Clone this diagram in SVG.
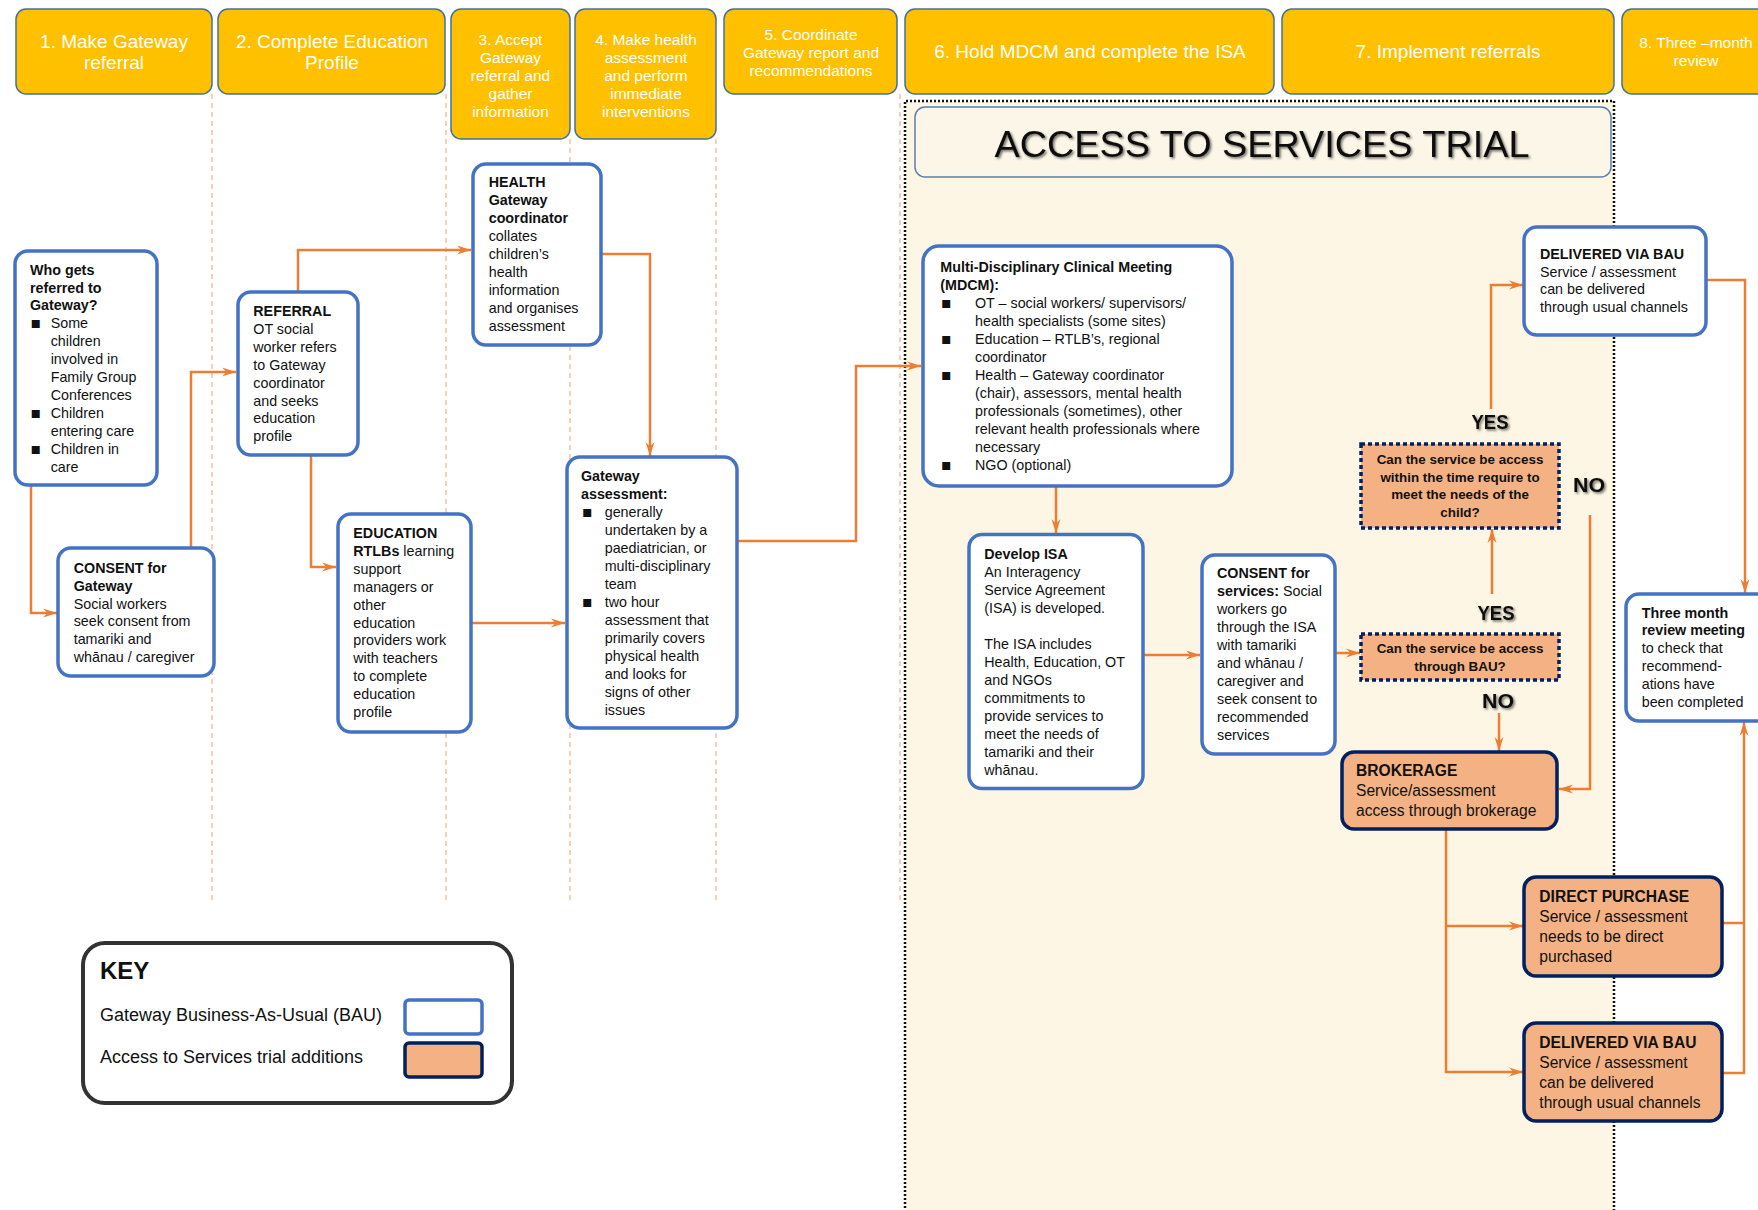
<svg xmlns="http://www.w3.org/2000/svg" width="1758" height="1210" viewBox="0 0 1758 1210">
<defs>
<style>
.hdr{fill:#FFC000;stroke:#41719C;stroke-width:1.5}
.ht{font-family:'Liberation Sans',Arial,sans-serif;fill:#fff;text-anchor:middle}
.bau{fill:#fff;stroke:#4472C4;stroke-width:3.5}
.ats{fill:#F4B183;stroke:#002060;stroke-width:3.5}
.q{fill:#F4B183;stroke:#002060;stroke-width:3.5;stroke-dasharray:4 3}
.t{font-family:'Liberation Sans','DejaVu Sans',Arial,sans-serif;font-size:14.3px;fill:#111}
.tl{font-family:'Liberation Sans','DejaVu Sans',Arial,sans-serif;font-size:15.6px;fill:#111}
.qt{font-family:'Liberation Sans',Arial,sans-serif;font-size:13.4px;font-weight:bold;fill:#111;text-anchor:middle}
.b{font-weight:bold}
.bl{font-family:'DejaVu Sans',sans-serif;font-size:16px}
.conn{fill:none;stroke:#ED7D31;stroke-width:2.5}
.dash{stroke:#F4B183;stroke-width:1.2;stroke-dasharray:5 4;fill:none}
.yn{font-family:'Liberation Sans',Arial,sans-serif;font-size:20px;font-weight:bold;fill:#111;text-anchor:middle}
</style>
<marker id="ah" markerWidth="14" markerHeight="10" refX="14" refY="5" orient="auto" markerUnits="userSpaceOnUse">
<path d="M0,0.5 L14,5 L0,9.5 L4.5,5 Z" fill="#ED7D31"/>
</marker>
<filter id="sh" x="-10%" y="-30%" width="130%" height="170%">
<feDropShadow dx="1.6" dy="1.6" stdDeviation="1" flood-color="#000" flood-opacity="0.55"/>
</filter>
</defs>
<rect x="0" y="0" width="1758" height="1210" fill="#fff"/>

<!-- trial region -->
<g id="trial-region">
<rect x="905" y="101" width="709" height="1115" fill="#FDF6E4"/>
<path d="M905,1212 V101 H1614 V1212" fill="none" stroke="#111" stroke-width="2.5" stroke-dasharray="2 2"/>
</g>

<!-- column separators -->
<g id="separators">
<line class="dash" x1="212" y1="94" x2="212" y2="903"/>
<line class="dash" x1="446" y1="94" x2="446" y2="903"/>
<line class="dash" x1="570" y1="139" x2="570" y2="903"/>
<line class="dash" x1="716" y1="139" x2="716" y2="903"/>
<line class="dash" x1="900" y1="94" x2="900" y2="903"/>
</g>

<!-- headers -->
<g id="h1"><rect class="hdr" x="16" y="9" width="196" height="85" rx="10"/>
<text class="ht" font-size="19"><tspan x="114" y="47.8">1. Make Gateway</tspan><tspan x="114" y="68.8">referral</tspan></text></g>
<g id="h2"><rect class="hdr" x="218" y="9" width="227" height="85" rx="10"/>
<text class="ht" font-size="19"><tspan x="332" y="47.8">2. Complete Education</tspan><tspan x="332" y="68.8">Profile</tspan></text></g>
<g id="h3"><rect class="hdr" x="451" y="9" width="119" height="130" rx="10"/>
<text class="ht" font-size="15.5"><tspan x="510.5" y="44.7">3. Accept</tspan><tspan x="510.5" y="62.7">Gateway</tspan><tspan x="510.5" y="80.7">referral and</tspan><tspan x="510.5" y="98.7">gather</tspan><tspan x="510.5" y="116.7">information</tspan></text></g>
<g id="h4"><rect class="hdr" x="575" y="9" width="141" height="130" rx="10"/>
<text class="ht" font-size="15.5"><tspan x="646" y="44.7">4. Make health</tspan><tspan x="646" y="62.7">assessment</tspan><tspan x="646" y="80.7">and perform</tspan><tspan x="646" y="98.7">immediate</tspan><tspan x="646" y="116.7">interventions</tspan></text></g>
<g id="h5"><rect class="hdr" x="724" y="9" width="173" height="85" rx="10"/>
<text class="ht" font-size="15.5"><tspan x="811" y="40">5. Coordinate</tspan><tspan x="811" y="58">Gateway report and</tspan><tspan x="811" y="76">recommendations</tspan></text></g>
<g id="h6"><rect class="hdr" x="905" y="9" width="369" height="85" rx="10"/>
<text class="ht" font-size="19"><tspan x="1090" y="58">6. Hold MDCM and complete the ISA</tspan></text></g>
<g id="h7"><rect class="hdr" x="1282" y="9" width="332" height="85" rx="10"/>
<text class="ht" font-size="19"><tspan x="1448" y="58">7. Implement referrals</tspan></text></g>
<g id="h8"><rect class="hdr" x="1622" y="9" width="160" height="85" rx="10"/>
<text class="ht" font-size="15.5"><tspan x="1696" y="48">8. Three –month</tspan><tspan x="1696" y="66">review</tspan></text></g>

<!-- title -->
<g id="title">
<rect x="915" y="107" width="696" height="70" rx="10" fill="#FCF6E8" stroke="#5B7FB0" stroke-width="1.5"/>
<text x="1262" y="157" font-family="'Liberation Sans',Arial,sans-serif" font-size="37" fill="#111" text-anchor="middle" textLength="535" lengthAdjust="spacingAndGlyphs" filter="url(#sh)">ACCESS TO SERVICES TRIAL</text>
</g>

<!-- connectors -->
<g id="connectors">
<path class="conn" marker-end="url(#ah)" d="M31,485 V613 H57"/>
<path class="conn" marker-end="url(#ah)" d="M191,548 V372 H236"/>
<path class="conn" marker-end="url(#ah)" d="M298,292 V250 H471"/>
<path class="conn" marker-end="url(#ah)" d="M311,455 V567 H336"/>
<path class="conn" marker-end="url(#ah)" d="M601,254 H650 V456"/>
<path class="conn" marker-end="url(#ah)" d="M471,623 H565"/>
<path class="conn" marker-end="url(#ah)" d="M737,541 H856 V366 H921"/>
<path class="conn" marker-end="url(#ah)" d="M1056,486 V533"/>
<path class="conn" marker-end="url(#ah)" d="M1143,655 H1200"/>
<path class="conn" marker-end="url(#ah)" d="M1335,653 H1360"/>
<path class="conn" marker-end="url(#ah)" d="M1492,594 V529"/>
<path class="conn" marker-end="url(#ah)" d="M1491,409 V285 H1523"/>
<path class="conn" marker-end="url(#ah)" d="M1590,515 V789 H1559"/>
<path class="conn" marker-end="url(#ah)" d="M1499,713 V751"/>
<path class="conn" marker-end="url(#ah)" d="M1446,829 V1072 H1523"/>
<path class="conn" marker-end="url(#ah)" d="M1446,926 H1523"/>
<path class="conn" marker-end="url(#ah)" d="M1706,280 H1745 V593"/>
<path class="conn" d="M1722,923 H1744"/>
<path class="conn" marker-end="url(#ah)" d="M1722,1073 H1744 V722"/>
</g>

<!-- nodes -->
<g id="who-gets">
<rect class="bau" x="15" y="251" width="142" height="234" rx="13"/>
<text class="t"><tspan class="b" x="30" y="274.6">Who gets</tspan><tspan class="b" x="30" y="292.5">referred to</tspan><tspan class="b" x="30" y="310.4">Gateway?</tspan>
<tspan class="bl" x="30.5" y="328.3">▪</tspan><tspan x="50.7" y="328.3">Some</tspan><tspan x="50.7" y="346.2">children</tspan><tspan x="50.7" y="364.1">involved in</tspan><tspan x="50.7" y="382">Family Group</tspan><tspan x="50.7" y="399.9">Conferences</tspan>
<tspan class="bl" x="30.5" y="417.8">▪</tspan><tspan x="50.7" y="417.8">Children</tspan><tspan x="50.7" y="435.7">entering care</tspan>
<tspan class="bl" x="30.5" y="453.6">▪</tspan><tspan x="50.7" y="453.6">Children in</tspan><tspan x="50.7" y="471.5">care</tspan></text>
</g>

<g id="consent-gateway">
<rect class="bau" x="58" y="548" width="156" height="128" rx="13"/>
<text class="t"><tspan class="b" x="73.7" y="572.7">CONSENT for</tspan><tspan class="b" x="73.7" y="590.6">Gateway</tspan><tspan x="73.7" y="608.5">Social workers</tspan><tspan x="73.7" y="626.4">seek consent from</tspan><tspan x="73.7" y="644.3">tamariki and</tspan><tspan x="73.7" y="662.2">whānau / caregiver</tspan></text>
</g>

<g id="referral">
<rect class="bau" x="238" y="292" width="120" height="163" rx="13"/>
<text class="t"><tspan class="b" x="253.3" y="316">REFERRAL</tspan><tspan x="253.3" y="333.9">OT social</tspan><tspan x="253.3" y="351.8">worker refers</tspan><tspan x="253.3" y="369.7">to Gateway</tspan><tspan x="253.3" y="387.6">coordinator</tspan><tspan x="253.3" y="405.5">and seeks</tspan><tspan x="253.3" y="423.4">education</tspan><tspan x="253.3" y="441.3">profile</tspan></text>
</g>

<g id="education">
<rect class="bau" x="338" y="514" width="133" height="218" rx="13"/>
<text class="t"><tspan class="b" x="353.3" y="538">EDUCATION</tspan><tspan x="353.3" y="555.9"><tspan class="b">RTLBs</tspan> learning</tspan><tspan x="353.3" y="573.8">support</tspan><tspan x="353.3" y="591.7">managers or</tspan><tspan x="353.3" y="609.6">other</tspan><tspan x="353.3" y="627.5">education</tspan><tspan x="353.3" y="645.4">providers work</tspan><tspan x="353.3" y="663.3">with teachers</tspan><tspan x="353.3" y="681.2">to complete</tspan><tspan x="353.3" y="699.1">education</tspan><tspan x="353.3" y="717">profile</tspan></text>
</g>

<g id="health">
<rect class="bau" x="473" y="164" width="128" height="181" rx="13"/>
<text class="t"><tspan class="b" x="488.7" y="187">HEALTH</tspan><tspan class="b" x="488.7" y="205">Gateway</tspan><tspan class="b" x="488.7" y="223">coordinator</tspan><tspan x="488.7" y="241">collates</tspan><tspan x="488.7" y="259">children’s</tspan><tspan x="488.7" y="277">health</tspan><tspan x="488.7" y="295">information</tspan><tspan x="488.7" y="313">and organises</tspan><tspan x="488.7" y="331">assessment</tspan></text>
</g>

<g id="gateway-assessment">
<rect class="bau" x="567" y="457" width="170" height="271" rx="13"/>
<text class="t"><tspan class="b" x="581" y="481">Gateway</tspan><tspan class="b" x="581" y="499">assessment:</tspan>
<tspan class="bl" x="582" y="517">▪</tspan><tspan x="604.7" y="517">generally</tspan><tspan x="604.7" y="535">undertaken by a</tspan><tspan x="604.7" y="553">paediatrician, or</tspan><tspan x="604.7" y="571">multi-disciplinary</tspan><tspan x="604.7" y="589">team</tspan>
<tspan class="bl" x="582" y="607">▪</tspan><tspan x="604.7" y="607">two hour</tspan><tspan x="604.7" y="625">assessment that</tspan><tspan x="604.7" y="643">primarily covers</tspan><tspan x="604.7" y="661">physical health</tspan><tspan x="604.7" y="679">and looks for</tspan><tspan x="604.7" y="697">signs of other</tspan><tspan x="604.7" y="715">issues</tspan></text>
</g>

<g id="mdcm">
<rect class="bau" x="923" y="246" width="309" height="240" rx="16"/>
<text class="t"><tspan class="b" x="940.3" y="272">Multi-Disciplinary Clinical Meeting</tspan><tspan class="b" x="940.3" y="290">(MDCM):</tspan>
<tspan class="bl" x="941" y="308">▪</tspan><tspan x="975" y="308">OT – social workers/ supervisors/</tspan><tspan x="975" y="326">health specialists (some sites)</tspan>
<tspan class="bl" x="941" y="344">▪</tspan><tspan x="975" y="344">Education – RTLB’s, regional</tspan><tspan x="975" y="362">coordinator</tspan>
<tspan class="bl" x="941" y="380">▪</tspan><tspan x="975" y="380">Health – Gateway coordinator</tspan><tspan x="975" y="398">(chair), assessors, mental health</tspan><tspan x="975" y="416">professionals (sometimes),  other</tspan><tspan x="975" y="434">relevant health professionals where</tspan><tspan x="975" y="452">necessary</tspan>
<tspan class="bl" x="941" y="470">▪</tspan><tspan x="975" y="470">NGO (optional)</tspan></text>
</g>

<g id="develop-isa">
<rect class="bau" x="969" y="534.5" width="174" height="254" rx="13"/>
<text class="t"><tspan class="b" x="984.3" y="559">Develop ISA</tspan><tspan x="984.3" y="577">An Interagency</tspan><tspan x="984.3" y="595">Service Agreement</tspan><tspan x="984.3" y="613">(ISA) is developed.</tspan><tspan x="984.3" y="649">The ISA includes</tspan><tspan x="984.3" y="667">Health, Education, OT</tspan><tspan x="984.3" y="685">and NGOs</tspan><tspan x="984.3" y="703">commitments to</tspan><tspan x="984.3" y="721">provide services to</tspan><tspan x="984.3" y="739">meet the needs of</tspan><tspan x="984.3" y="757">tamariki and their</tspan><tspan x="984.3" y="775">whānau.</tspan></text>
</g>

<g id="consent-services">
<rect class="bau" x="1202" y="555" width="133" height="199" rx="13"/>
<text class="t"><tspan class="b" x="1217" y="578.3">CONSENT for</tspan><tspan x="1217" y="596.3"><tspan class="b">services:</tspan> Social</tspan><tspan x="1217" y="614.3">workers go</tspan><tspan x="1217" y="632.3">through the ISA</tspan><tspan x="1217" y="650.3">with tamariki</tspan><tspan x="1217" y="668.3">and whānau /</tspan><tspan x="1217" y="686.3">caregiver and</tspan><tspan x="1217" y="704.3">seek consent to</tspan><tspan x="1217" y="722.3">recommended</tspan><tspan x="1217" y="740.3">services</tspan></text>
</g>

<g id="q-bau">
<rect class="q" x="1361" y="634" width="198" height="46"/>
<text class="qt"><tspan x="1460" y="653.2">Can the service be access</tspan><tspan x="1460" y="670.9">through BAU?</tspan></text>
</g>

<g id="q-time">
<rect class="q" x="1361" y="444" width="198" height="84"/>
<text class="qt"><tspan x="1460" y="463.8">Can the service be access</tspan><tspan x="1460" y="481.6">within the time require to</tspan><tspan x="1460" y="499.4">meet the needs of the</tspan><tspan x="1460" y="517.2">child?</tspan></text>
</g>

<g id="labels">
<text class="yn" x="1490" y="428.8" textLength="37" lengthAdjust="spacingAndGlyphs" filter="url(#sh)">YES</text>
<text class="yn" x="1589" y="492" textLength="32" lengthAdjust="spacingAndGlyphs" filter="url(#sh)">NO</text>
<text class="yn" x="1496" y="620" textLength="37" lengthAdjust="spacingAndGlyphs" filter="url(#sh)">YES</text>
<text class="yn" x="1498" y="707.5" textLength="32" lengthAdjust="spacingAndGlyphs" filter="url(#sh)">NO</text>
</g>

<g id="delivered-bau-1">
<rect class="bau" x="1524" y="227" width="182" height="108" rx="13"/>
<text class="t"><tspan class="b" x="1540" y="258.6">DELIVERED VIA BAU</tspan><tspan x="1540" y="276.5">Service / assessment</tspan><tspan x="1540" y="294.4">can be delivered</tspan><tspan x="1540" y="312.3">through usual channels</tspan></text>
</g>

<g id="brokerage">
<rect class="ats" x="1342" y="752" width="215" height="77" rx="12"/>
<text class="tl"><tspan class="b" x="1356" y="776">BROKERAGE</tspan><tspan x="1356" y="796">Service/assessment</tspan><tspan x="1356" y="816">access through brokerage</tspan></text>
</g>

<g id="direct-purchase">
<rect class="ats" x="1524" y="877" width="198" height="99" rx="12"/>
<text class="tl"><tspan class="b" x="1539.3" y="902">DIRECT PURCHASE</tspan><tspan x="1539.3" y="922">Service / assessment</tspan><tspan x="1539.3" y="942">needs to be direct</tspan><tspan x="1539.3" y="962">purchased</tspan></text>
</g>

<g id="delivered-bau-2">
<rect class="ats" x="1524" y="1023" width="198" height="98" rx="12"/>
<text class="tl"><tspan class="b" x="1539.3" y="1047.6">DELIVERED VIA BAU</tspan><tspan x="1539.3" y="1067.6">Service / assessment</tspan><tspan x="1539.3" y="1087.6">can be delivered</tspan><tspan x="1539.3" y="1107.6">through usual channels</tspan></text>
</g>

<g id="three-month">
<rect class="bau" x="1626" y="594" width="160" height="127" rx="13"/>
<text class="t"><tspan class="b" x="1641.7" y="617.6">Three month</tspan><tspan class="b" x="1641.7" y="635.4">review meeting</tspan><tspan x="1641.7" y="653.2">to check that</tspan><tspan x="1641.7" y="671">recommend-</tspan><tspan x="1641.7" y="688.8">ations have</tspan><tspan x="1641.7" y="706.6">been completed</tspan></text>
</g>

<!-- key -->
<g id="key">
<rect x="83" y="943" width="429" height="160" rx="22" fill="#fff" stroke="#333" stroke-width="4"/>
<text x="100" y="979" font-family="'Liberation Sans',Arial,sans-serif" font-size="24" font-weight="bold" fill="#111">KEY</text>
<text x="100" y="1021.3" font-family="'Liberation Sans',Arial,sans-serif" font-size="18" fill="#111">Gateway Business-As-Usual (BAU)</text>
<text x="100" y="1063" font-family="'Liberation Sans',Arial,sans-serif" font-size="18" fill="#111">Access to Services trial additions</text>
<rect class="bau" x="405" y="1000" width="77" height="34" rx="4"/>
<rect class="ats" x="405" y="1043" width="77" height="34" rx="4"/>
</g>
</svg>
